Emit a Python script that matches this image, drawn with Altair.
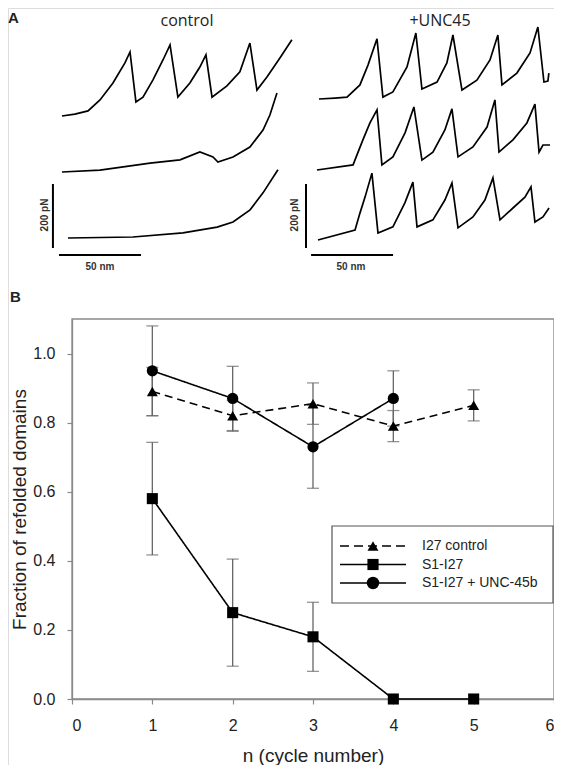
import altair as alt
import pandas as pd

# ---------------- Panel B data ----------------
SERIES = ["I27 control", "S1-I27", "S1-I27 + UNC-45b"]
i27_n = [1, 2, 3, 4, 5]
i27_mean = [0.89, 0.82, 0.855, 0.79, 0.85]
i27_err = [0.07, 0.045, 0.06, 0.045, 0.045]
s1_n = [1, 2, 3, 4, 5]
s1_mean = [0.58, 0.25, 0.18, 0.0, 0.0]
s1_err = [0.163, 0.155, 0.10, 0.0, 0.0]
unc_n = [1, 2, 3, 4]
unc_mean = [0.95, 0.87, 0.73, 0.87]
unc_err = [0.13, 0.093, 0.12, 0.08]
x_ticks = [0, 1, 2, 3, 4, 5, 6]
y_ticks = [0.0, 0.2, 0.4, 0.6, 0.8, 1.0]

# ---------------- Panel A data (extension nm, force pN) ----------------
L1_nm = [0, 7.9, 15.9, 23.2, 31.1, 38.4, 41.5, 45.1, 49.4, 55.5, 61.6, 65.9, 70.7, 78.0, 84.1, 87.8,
         91.5, 100.6, 108.5, 114.6, 118.9, 125.0, 132.9, 140.2]
L1_pn = [0, 6, 16, 50, 103, 166, 200, 44, 59, 113, 175, 222, 59, 103, 153, 191,
         59, 94, 138, 228, 81, 122, 181, 238]
L2_nm = [0, 23.2, 53.7, 72.0, 84.1, 92.1, 95.1, 104.3, 114.6, 122.6, 126.8, 131.1]
L2_pn = [0, 6, 28, 38, 63, 47, 31, 47, 78, 131, 178, 247]
L3_nm = [0, 39.6, 70.1, 90.9, 100.6, 111.0, 118.9, 128.0]
L3_pn = [0, 3, 16, 34, 50, 88, 141, 213]
R1_nm = [0, 9.8, 17.1, 25.0, 29.9, 35.4, 39.0, 45.1, 53.7, 59.1, 62.8, 72.0, 78.0, 81.7, 87.2,
         96.3, 104.3, 109.1, 111.6, 120.7, 128.7, 133.5, 137.2, 139.6, 140.2]
R1_pn = [0, 3, 6, 44, 106, 188, 6, 22, 100, 206, 31, 53, 113, 200, 28,
         59, 122, 200, 44, 81, 144, 225, 53, 56, 81]
R2_nm = [0, 22.0, 28.0, 32.3, 36.6, 39.6, 46.3, 53.7, 59.1, 64.0, 70.7, 78.0, 82.3, 86.0,
         95.1, 103.7, 108.5, 111.0, 119.5, 128.0, 132.9, 135.4, 137.8, 142.1]
R2_pn = [0, 16, 94, 147, 188, 16, 41, 116, 197, 31, 56, 125, 191, 41,
         72, 134, 219, 56, 94, 147, 206, 56, 78, 78]
R3_nm = [0, 22.6, 25.6, 28.7, 32.9, 36.6, 45.7, 53.0, 57.9, 60.4, 70.1, 77.4, 81.7, 85.4,
         94.5, 101.8, 106.7, 111.0, 118.9, 126.2, 129.9, 132.3, 137.2, 140.9]
R3_pn = [0, 31, 84, 134, 209, 22, 41, 116, 181, 41, 63, 125, 178, 38,
         72, 125, 194, 63, 100, 134, 166, 56, 72, 100]
SCALE_NM = 50
SCALE_PN = 200

# ---------------- layout (not data) ----------------
W, H = 546, 757
trace_pos = {
    "L1": (32.9, 537.5), "L2": (32.9, 362.5), "L3": (36.6, 156.3),
    "R1": (189.6, 590.6), "R2": (188.4, 368.8), "R3": (189.0, 150.0),
}
traces = {"L1": (L1_nm, L1_pn), "L2": (L2_nm, L2_pn), "L3": (L3_nm, L3_pn),
          "R1": (R1_nm, R1_pn), "R2": (R2_nm, R2_pn), "R3": (R3_nm, R3_pn)}
bar_pos = [(27.4, 125.0, 31.1, 103.0), (181.7, 125.0, 184.8, 103.0)]

rows = []
for k, (nm, pn) in traces.items():
    ox, oy = trace_pos[k]
    for i, (a, b) in enumerate(zip(nm, pn)):
        rows.append({"trace": k, "idx": i, "ext": a + ox, "force": b + oy})
tdf = pd.DataFrame(rows)

vb = pd.DataFrame([{"x": bx, "y": by, "y2": by + SCALE_PN} for bx, by, _, _ in bar_pos])
hb = pd.DataFrame([{"x": hx, "x2": hx + SCALE_NM, "y": hy} for _, _, hx, hy in bar_pos])

xa = alt.Scale(domain=[0, 340], range=[0, 557.6], nice=False, zero=False)
ya = alt.Scale(domain=[0, 900], range=[280, -8], nice=False, zero=False)

trace_layer = alt.Chart(tdf).mark_line(color="black", strokeWidth=1.7).encode(
    x=alt.X("ext:Q", scale=xa, axis=None),
    y=alt.Y("force:Q", scale=ya, axis=None),
    detail="trace:N",
    order="idx:Q",
)
vbar = alt.Chart(vb).mark_rule(color="black", strokeWidth=2).encode(
    x=alt.X("x:Q", scale=xa, axis=None),
    y=alt.Y("y:Q", scale=ya, axis=None),
    y2="y2:Q",
)
hbar = alt.Chart(hb).mark_rule(color="black", strokeWidth=2).encode(
    x=alt.X("x:Q", scale=xa, axis=None),
    x2="x2:Q",
    y=alt.Y("y:Q", scale=ya, axis=None),
)

one = pd.DataFrame({"a": [0]})


def txt(s, x, y, size, weight="normal", angle=0, align="center", baseline="middle",
        font="Liberation Sans", color="#222"):
    return alt.Chart(one).mark_text(
        text=s, fontSize=size, fontWeight=weight, angle=angle, align=align,
        baseline=baseline, font=font, color=color,
    ).encode(x=alt.value(x), y=alt.value(y))


panelA_text = [
    txt("A", 0, 10, 15, "bold", align="left"),
    txt("control", 179, 5, 16, font="Open Sans", baseline="top"),
    txt("+UNC45", 432, 5, 16, font="Open Sans", baseline="top"),
    txt("200 pN", 37, 207, 10, "bold", angle=270, color="#333"),
    txt("200 pN", 287, 207, 10, "bold", angle=270, color="#333"),
    txt("50 nm", 92, 259, 10, "bold", color="#333"),
    txt("50 nm", 343, 259, 10, "bold", color="#333"),
    txt("B", 2, 289, 15, "bold", align="left"),
]

panelA = alt.layer(trace_layer, vbar, hbar)

# ---------------- Panel B ----------------
brows = []
for name, ns, ms, es in [(SERIES[0], i27_n, i27_mean, i27_err),
                         (SERIES[1], s1_n, s1_mean, s1_err),
                         (SERIES[2], unc_n, unc_mean, unc_err)]:
    for n, m, e in zip(ns, ms, es):
        brows.append({"series": name, "n": n, "val": m, "lo": m - e, "hi": m + e, "err": e})
bdf = pd.DataFrame(brows)
edf = bdf[bdf["err"] > 0]

xb = alt.Scale(domain=[0, 6], range=[64, 546], nice=False, zero=False)
yb = alt.Scale(domain=[0, 1.1], range=[691, 311], nice=False, zero=False)

AX = dict(domainColor="#8a8a8a", tickColor="#8a8a8a", labelColor="#222", titleColor="#222",
          labelFont="Liberation Sans", titleFont="Liberation Sans", labelFontSize=16,
          titleFontSize=19, titleFontWeight="normal", grid=False, tickSize=5, domainWidth=1.3,
          tickWidth=1.2)

x_axis = alt.Axis(values=x_ticks, format="d", title="n (cycle number)", offset=-66,
                  labelPadding=13, titlePadding=13, **AX)
y_axis = alt.Axis(values=y_ticks, format=".1f", title="Fraction of refolded domains", offset=-64,
                  labelPadding=12, titlePadding=3, **AX)

frame_df = pd.DataFrame({"x0": [x_ticks[0]], "x1": [x_ticks[-1]], "y0": [0.0], "y1": [1.1]})
frame = alt.Chart(frame_df).mark_rect(fillOpacity=0, stroke="#8a8a8a", strokeWidth=1.3).encode(
    x=alt.X("x0:Q", scale=xb, axis=x_axis),
    x2="x1:Q",
    y=alt.Y("y0:Q", scale=yb, axis=y_axis),
    y2="y1:Q",
)

err_rule = alt.Chart(edf).mark_rule(color="#666", strokeWidth=1.3).encode(
    x=alt.X("n:Q", scale=xb), y=alt.Y("lo:Q", scale=yb), y2="hi:Q")
cap_lo = alt.Chart(edf).mark_tick(color="#666", orient="horizontal", size=12, thickness=1.3).encode(
    x=alt.X("n:Q", scale=xb), y=alt.Y("lo:Q", scale=yb))
cap_hi = alt.Chart(edf).mark_tick(color="#666", orient="horizontal", size=12, thickness=1.3).encode(
    x=alt.X("n:Q", scale=xb), y=alt.Y("hi:Q", scale=yb))

lines = alt.Chart(bdf).mark_line(color="black", strokeWidth=1.6).encode(
    x=alt.X("n:Q", scale=xb),
    y=alt.Y("val:Q", scale=yb),
    detail="series:N",
    strokeDash=alt.StrokeDash("series:N", scale=alt.Scale(domain=SERIES, range=[[8, 5], [1, 0], [1, 0]]),
                              legend=None),
)
points = alt.Chart(bdf).mark_point(filled=True, color="black", opacity=1).encode(
    x=alt.X("n:Q", scale=xb),
    y=alt.Y("val:Q", scale=yb),
    shape=alt.Shape("series:N", scale=alt.Scale(domain=SERIES, range=["triangle-up", "square", "circle"]),
                    legend=None),
    size=alt.Size("series:N", scale=alt.Scale(domain=SERIES, range=[120, 125, 155]), legend=None),
)

# legend (manual)
LX0, LX1, LY0, LY1 = 324, 545, 518, 595
leg = [alt.Chart(one).mark_rect(fill="white", stroke="#555", strokeWidth=1.2).encode(
    x=alt.value(LX0), x2=alt.value(LX1), y=alt.value(LY0), y2=alt.value(LY1))]
row_y = [538, 556.5, 575]
shapes = ["triangle-up", "square", "circle"]
sizes = [120, 125, 155]
dashes = [[9, 5], [1, 0], [1, 0]]
for i, name in enumerate(SERIES):
    leg.append(alt.Chart(one).mark_rule(color="black", strokeWidth=1.6, strokeDash=dashes[i]).encode(
        x=alt.value(332), x2=alt.value(398), y=alt.value(row_y[i])))
    leg.append(alt.Chart(one).mark_point(filled=True, color="black", opacity=1, shape=shapes[i],
                                         size=sizes[i]).encode(x=alt.value(365), y=alt.value(row_y[i])))
    leg.append(txt(name, 414, row_y[i], 14, align="left", color="#222"))

panelB = alt.layer(frame, err_rule, cap_lo, cap_hi, lines, points)

chart = alt.layer(panelA, panelB, *panelA_text, *leg).resolve_scale(
    x="independent", y="independent"
).properties(
    width=W, height=H, padding=0, autosize=alt.AutoSizeParams(type="none")
).configure_view(stroke=None).configure(font="Liberation Sans")

chart.save("out.html", embed_options={"renderer": "svg", "actions": False})
